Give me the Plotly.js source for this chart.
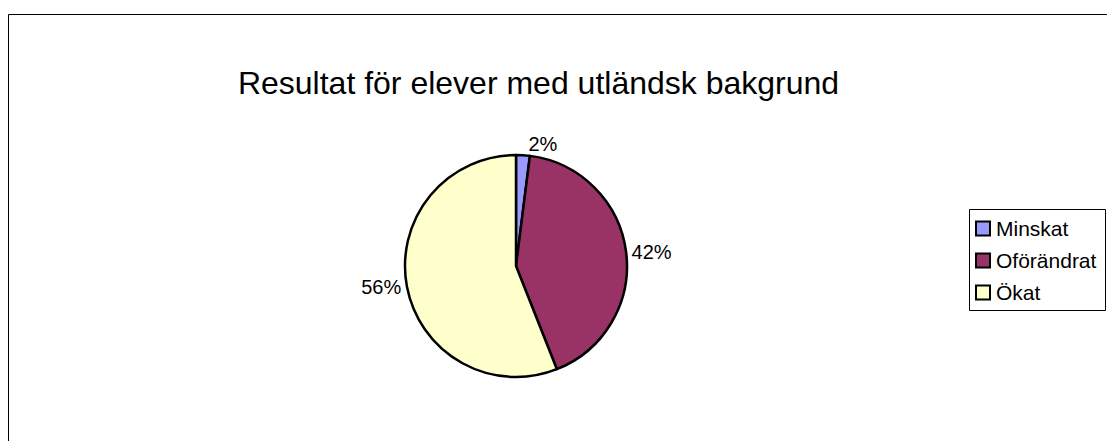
<!DOCTYPE html>
<html>
<head>
<meta charset="utf-8">
<script src="https://cdn.plot.ly/plotly-3.0.1.min.js"></script>
<style>
  html, body { margin: 0; padding: 0; background: #ffffff; }
  #chart { width: 1107px; height: 441px; }
</style>
</head>
<body>
<div id="chart"></div>
<script>
const categories = ["Minskat", "Oförändrat", "Ökat"];
const values = [2, 42, 56];
const sliceColors = ["#9999FF", "#993366", "#FFFFCC"];
const chartTitle = "Resultat för elever med utländsk bakgrund";

const W = 1107, H = 441;
const px = v => v / W;
const py = v => 1 - v / H;
const FONT = "Liberation Sans, Arial, sans-serif";

const trace = {
  type: "pie",
  labels: categories,
  values: values,
  sort: false,
  direction: "clockwise",
  rotation: 0,
  marker: { colors: sliceColors, line: { color: "#000000", width: 2.5 } },
  textinfo: "percent",
  textposition: "outside",
  outsidetextfont: { family: FONT, size: 20, color: "#000000" },
  domain: { x: [px(405), px(627)], y: [py(377), py(155)] },
  hoverinfo: "label+percent",
  showlegend: false
};

// Legend drawn from the category / colour arrays
const shapes = [
  { // chart area border (extends past right/bottom edges)
    type: "rect", xref: "paper", yref: "paper",
    x0: px(8.5), x1: 1.2, y0: py(14.5), y1: -0.2,
    line: { color: "#000000", width: 1 }, fillcolor: "rgba(0,0,0,0)"
  },
  { // legend box
    type: "rect", xref: "paper", yref: "paper",
    x0: px(969.5), x1: px(1105.5), y0: py(209.5), y1: py(310.5),
    line: { color: "#000000", width: 1 }, fillcolor: "#ffffff"
  }
];
const annotations = [];
const rowTop = 228.5, rowStep = 32;
categories.forEach((name, i) => {
  const cy = rowTop + i * rowStep;
  shapes.push({
    type: "rect", xref: "paper", yref: "paper",
    x0: px(976), x1: px(990), y0: py(cy + 7), y1: py(cy - 7),
    line: { color: "#000000", width: 2 }, fillcolor: sliceColors[i]
  });
  annotations.push({
    xref: "paper", yref: "paper", x: px(994), y: py(cy),
    xanchor: "left", yanchor: "middle", showarrow: false,
    text: name, font: { family: FONT, size: 21, color: "#000000" }
  });
});

const layout = {
  width: W,
  height: H,
  margin: { l: 0, r: 0, t: 0, b: 0, autoexpand: false },
  paper_bgcolor: "#ffffff",
  font: { family: FONT, color: "#000000" },
  title: {
    text: chartTitle,
    font: { family: FONT, size: 32, color: "#000000" },
    x: px(538.5), xanchor: "center", xref: "paper",
    y: py(83), yanchor: "middle", yref: "paper"
  },
  showlegend: false,
  shapes: shapes,
  annotations: annotations
};

Plotly.newPlot("chart", [trace], layout, { displayModeBar: false, staticPlot: true });
</script>
</body>
</html>
